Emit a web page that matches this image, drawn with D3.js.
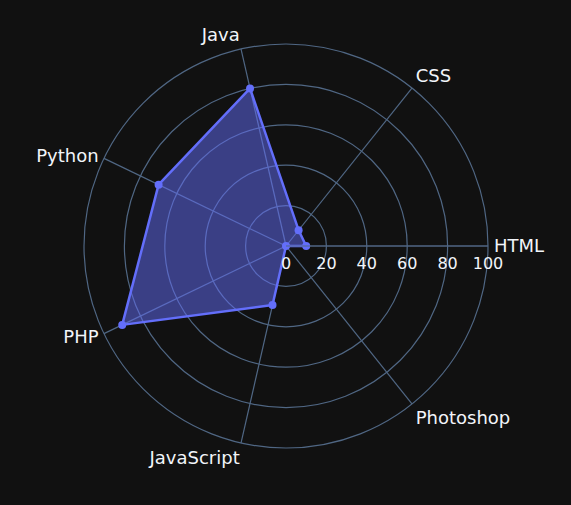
<!DOCTYPE html>
<html><head><meta charset="utf-8">
<script src="https://cdn.jsdelivr.net/npm/d3@7"></script>
<style>html,body{margin:0;padding:0;background:#111111;}</style>
</head><body>
<svg id="chart" width="571" height="505"></svg>
<script>
const categories = ["HTML", "CSS", "Java", "Python", "PHP", "JavaScript", "Photoshop"];
const values = [10, 10, 80, 70, 90, 30, 0];
const radialTicks = [0, 20, 40, 60, 80, 100];

const W = 571, H = 505, cx = 286, cy = 246, R = 202;
const svg = d3.select("#chart");
svg.append("rect").attr("width", W).attr("height", H).attr("fill", "#111111");
const g = svg.append("g").attr("transform", `translate(${cx},${cy})`);

const r = d3.scaleLinear().domain([0, 100]).range([0, R]);
const ang = d3.scaleBand().domain(categories).range([0, 2 * Math.PI]).align(0).paddingInner(0).paddingOuter(0);
const angleOf = c => ang(c); // radians, counterclockwise from east
const pt = (c, v) => [r(v) * Math.cos(angleOf(c)), -r(v) * Math.sin(angleOf(c))];
const grid = "#506784";
const font = "'DejaVu Sans', Verdana, sans-serif";

// circles
g.selectAll("circle.grid").data(radialTicks.filter(t => t > 0)).join("circle")
  .attr("class", "grid").attr("r", d => r(d)).attr("fill", "none")
  .attr("stroke", grid).attr("stroke-width", 1.2);
// spokes
g.selectAll("line.spoke").data(categories).join("line")
  .attr("class", "spoke")
  .attr("x1", 0).attr("y1", 0)
  .attr("x2", d => pt(d, 100)[0]).attr("y2", d => pt(d, 100)[1])
  .attr("stroke", grid).attr("stroke-width", 1.2);

// data polygon
const lineGen = d3.line().curve(d3.curveLinearClosed);
const pts = categories.map((c, i) => pt(c, values[i]));
g.append("path").attr("d", lineGen(pts))
  .attr("fill", "#636efa").attr("fill-opacity", 0.5)
  .attr("stroke", "#636efa").attr("stroke-width", 2.5).attr("stroke-linejoin", "round");
g.selectAll("circle.pt").data(pts).join("circle")
  .attr("class", "pt").attr("cx", d => d[0]).attr("cy", d => d[1]).attr("r", 4)
  .attr("fill", "#636efa");

// radial axis line
g.append("line").attr("x1", 0).attr("y1", 0).attr("x2", r(100)).attr("y2", 0)
  .attr("stroke", grid).attr("stroke-width", 1.2);
g.selectAll("text.rt").data(radialTicks).join("text")
  .attr("class", "rt").attr("x", d => r(d)).attr("y", 23)
  .attr("text-anchor", "middle").attr("fill", "#f2f5fa")
  .attr("font-family", font).attr("font-size", 16).text(d => d);

// angular labels
g.selectAll("text.al").data(categories).join("text")
  .attr("class", "al")
  .each(function(c) {
    const a = angleOf(c), co = Math.cos(a), si = Math.sin(a);
    const [x, y] = [(R + 6) * co, -(R + 6) * si];
    const anchor = co > 0.1 ? "start" : (co < -0.1 ? "end" : "middle");
    let dy = "0.35em";
    if (si > 0.5) dy = "-0.1em"; else if (si < -0.5) dy = "0.85em";
    d3.select(this).attr("x", x).attr("y", y).attr("dy", dy).attr("text-anchor", anchor);
  })
  .attr("fill", "#f2f5fa").attr("font-family", font).attr("font-size", 18)
  .text(d => d);
</script>
</body></html>
